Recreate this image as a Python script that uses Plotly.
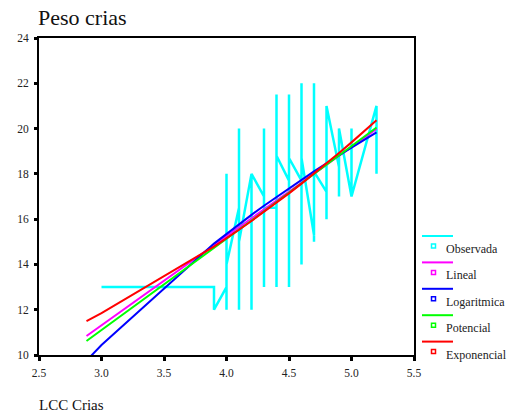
import plotly.graph_objects as go

# ---- data ----
obs_x = [3.0,
         3.9, 3.9,
         4.0, 4.0, 4.0, 4.0,
         4.1, 4.1, 4.1, 4.1,
         4.2, 4.2, 4.2,
         4.3, 4.3, 4.3, 4.3,
         4.4, 4.4, 4.4, 4.4,
         4.5, 4.5, 4.5, 4.5,
         4.6, 4.6, 4.6, 4.6,
         4.7, 4.7, 4.7, 4.7,
         4.8, 4.8, 4.8,
         4.9, 4.9, 4.9,
         5.0, 5.0, 5.0,
         5.2, 5.2]
obs_y = [13,
         13, 12,
         13, 12, 18, 14,
         16.5, 20, 12, 15,
         18, 12, 18,
         17, 13, 20, 16.5,
         16.5, 13, 21.5, 18.8,
         17.7, 13, 21.5, 18.7,
         17.7, 14, 22, 18.7,
         15.3, 22, 15, 18.1,
         17.2, 16, 21,
         18.3, 17, 20,
         17, 20, 17,
         21, 18]

fit_x = [2.88, 3.0, 3.9, 4.0, 4.1, 4.2, 4.3, 4.4, 4.5, 4.6, 4.7, 4.8, 4.9, 5.0, 5.2]
lineal = [10.84, 11.31, 14.86, 15.25, 15.64, 16.04, 16.43, 16.83, 17.22, 17.61, 18.01, 18.40, 18.80, 19.19, 19.98]
logaritmica = [9.75, 10.44, 14.92, 15.35, 15.78, 16.19, 16.59, 16.98, 17.37, 17.74, 18.11, 18.47, 18.82, 19.16, 19.83]
potencial = [10.62, 11.10, 14.72, 15.12, 15.53, 15.94, 16.35, 16.76, 17.17, 17.58, 17.99, 18.40, 18.81, 19.22, 20.05]
exponencial = [11.50, 11.85, 14.79, 15.15, 15.53, 15.92, 16.32, 16.73, 17.14, 17.57, 18.01, 18.46, 18.92, 19.39, 20.37]

x_ticks = [2.5, 3.0, 3.5, 4.0, 4.5, 5.0, 5.5]
x_ticklabels = ["2.5", "3.0", "3.5", "4.0", "4.5", "5.0", "5.5"]
y_ticks = [10, 12, 14, 16, 18, 20, 22, 24]

series_names = ["Observada", "Lineal", "Logaritmica", "Potencial", "Exponencial"]
series_colors = ["#00FFFF", "#FF00FF", "#0000FF", "#00FF00", "#FF0000"]

FONT = "Liberation Serif, Times New Roman, serif"

fig = go.Figure()
fig.add_trace(go.Scatter(x=obs_x, y=obs_y, mode="lines", name=series_names[0],
                         line=dict(color=series_colors[0], width=2.5)))
for name, col, ys in zip(series_names[1:], series_colors[1:],
                         [lineal, logaritmica, potencial, exponencial]):
    fig.add_trace(go.Scatter(x=fit_x, y=ys, mode="lines", name=name,
                             line=dict(color=col, width=2)))

# plot area geometry (pixels)
W, H = 518, 415
L, R, T, B = 39, 104, 38, 60
pw, ph = W - L - R, H - T - B

def px(xp):
    return (xp - L) / pw

def py(yp):
    return (H - B - yp) / ph

shapes = []
annotations = []
# custom legend: line sample above a small square, label to the right
for i, (name, col) in enumerate(zip(series_names, series_colors)):
    ly = 236 + 26.4 * i
    ty = 249 + 26.4 * i
    shapes.append(dict(type="line", xref="paper", yref="paper",
                       x0=px(422), x1=px(453), y0=py(ly), y1=py(ly),
                       line=dict(color=col, width=2)))
    shapes.append(dict(type="rect", xref="paper", yref="paper",
                       x0=px(431.5), x1=px(435.5), y0=py(ty - 5), y1=py(ty - 1),
                       line=dict(color=col, width=1.5), fillcolor="white"))
    annotations.append(dict(text=name, xref="paper", yref="paper",
                            x=px(444), y=py(ty), xanchor="left", yanchor="middle",
                            showarrow=False,
                            font=dict(family=FONT, size=12, color="#222")))

annotations.append(dict(text="Peso crias", xref="paper", yref="paper",
                        x=px(36), y=py(18), xanchor="left", yanchor="middle",
                        showarrow=False, font=dict(family=FONT, size=22, color="#111")))
annotations.append(dict(text="LCC Crias", xref="paper", yref="paper",
                        x=px(37), y=py(405), xanchor="left", yanchor="middle",
                        showarrow=False, font=dict(family=FONT, size=15, color="#111")))

fig.update_layout(
    width=W, height=H,
    margin=dict(l=L, r=R, t=T, b=B),
    paper_bgcolor="white", plot_bgcolor="white",
    showlegend=False,
    shapes=shapes, annotations=annotations,
    font=dict(family=FONT, size=11, color="#222"),
)
fig.update_xaxes(range=[2.5, 5.5], tickvals=x_ticks, ticktext=x_ticklabels,
                 showgrid=False, zeroline=False,
                 showline=True, linecolor="black", linewidth=2, mirror=True,
                 ticks="outside", ticklen=4, tickwidth=3, tickcolor="black",
                 ticklabelstandoff=2,
                 tickfont=dict(family=FONT, size=11.5, color="#222"))
fig.update_yaxes(range=[10, 24], tickvals=y_ticks,
                 showgrid=False, zeroline=False,
                 showline=True, linecolor="black", linewidth=2, mirror=True,
                 ticks="outside", ticklen=3, tickwidth=3, tickcolor="black",
                 ticklabelstandoff=3,
                 tickfont=dict(family=FONT, size=11.5, color="#222"))

fig.write_html("out.html")
